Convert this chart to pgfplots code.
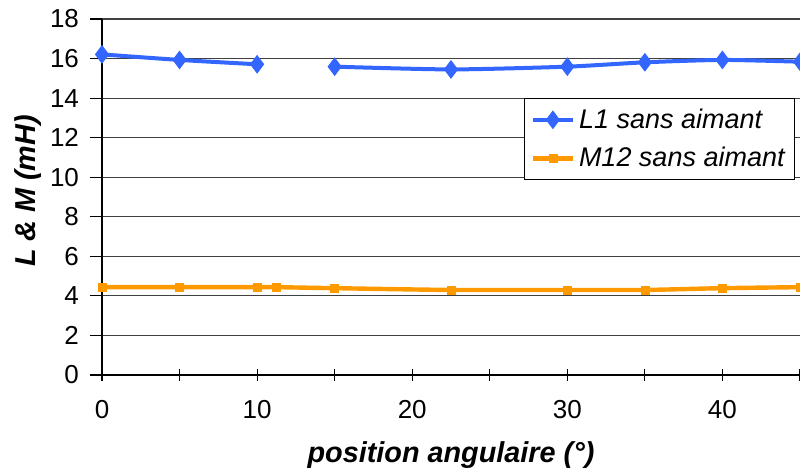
\documentclass[border=0pt]{standalone}
\usepackage{pgfplots}
\pgfplotsset{compat=1.18}
\usepackage{fontspec}
\setmainfont{Liberation Sans}
\definecolor{serblue}{RGB}{51,102,255}
\definecolor{serorange}{RGB}{255,153,0}
\begin{document}
\begin{tikzpicture}
\useasboundingbox (-51pt,-47.5pt) rectangle (349pt,187.5pt);
\begin{axis}[
  at={(0,0)}, anchor=south west,
  scale only axis, width=349pt, height=178pt,
  xmin=0, xmax=45, ymin=0, ymax=18,
  axis x line=bottom, axis y line=left,
  axis line style={-, black, line width=0.7pt},
  xtick={0,10,...,40}, minor xtick={5,15,...,45},
  ytick={0,2,...,18},
  x tick style={black, line width=0.6pt},
  y tick style={black, line width=0.6pt},
  xtick align=center, ytick align=outside,
  major tick length=6pt, minor tick length=6pt,
  ymajorgrids, major grid style={black!75, line width=0.6pt},
  /pgf/number format/assume math mode=true,
  tick label style={font=\fontsize{13}{15}\selectfont},
  xticklabel style={yshift=-6pt},
  yticklabel style={xshift=-2pt},
  xlabel={position angulaire (°)},
  ylabel={L \& M (mH)},
  xlabel style={font=\fontsize{14.4}{16}\selectfont\bfseries\itshape, at={(axis description cs:0.5,0)}, anchor=base, yshift=-44pt},
  ylabel style={font=\fontsize{14.4}{16}\selectfont\bfseries\itshape, at={([xshift=-37pt,yshift=3pt]axis description cs:0,0.5)}, anchor=center},
  unbounded coords=jump,
  legend style={at={(0.993,0.778)}, anchor=north east, draw=black, line width=0.5pt, fill=white,
    font=\fontsize{13.5}{15}\selectfont\itshape, inner xsep=3pt, inner ysep=3pt, row sep=4pt,
    nodes={inner sep=2pt}},
  legend cell align=left,
  legend image code/.code={\draw[mark repeat=2,mark phase=2] plot coordinates {(0cm,0cm)(0.35cm,0cm)(0.7cm,0cm)};},
]
\addplot[serblue, line width=2pt, smooth, tension=0.4, mark=diamond*, mark size=4.3pt, mark options={solid, fill=serblue, line width=0.5pt}]
  coordinates {(0,16.21) (5,15.93) (10,15.71) (11.25,nan) (15,15.59) (22.5,15.45) (30,15.59) (35,15.81) (40,15.93) (45,15.84)};
\addlegendentry{L1 sans aimant}
\addplot[serorange, line width=2.2pt, smooth, tension=0.4, mark=square*, mark size=2pt, mark options={solid, fill=serorange, line width=0.3pt}]
  coordinates {(0,4.44) (5,4.44) (10,4.44) (11.25,4.44) (15,4.39) (22.5,4.30) (30,4.30) (35,4.30) (40,4.39) (45,4.44)};
\addlegendentry{M12 sans aimant}
\end{axis}
\end{tikzpicture}
\end{document}
